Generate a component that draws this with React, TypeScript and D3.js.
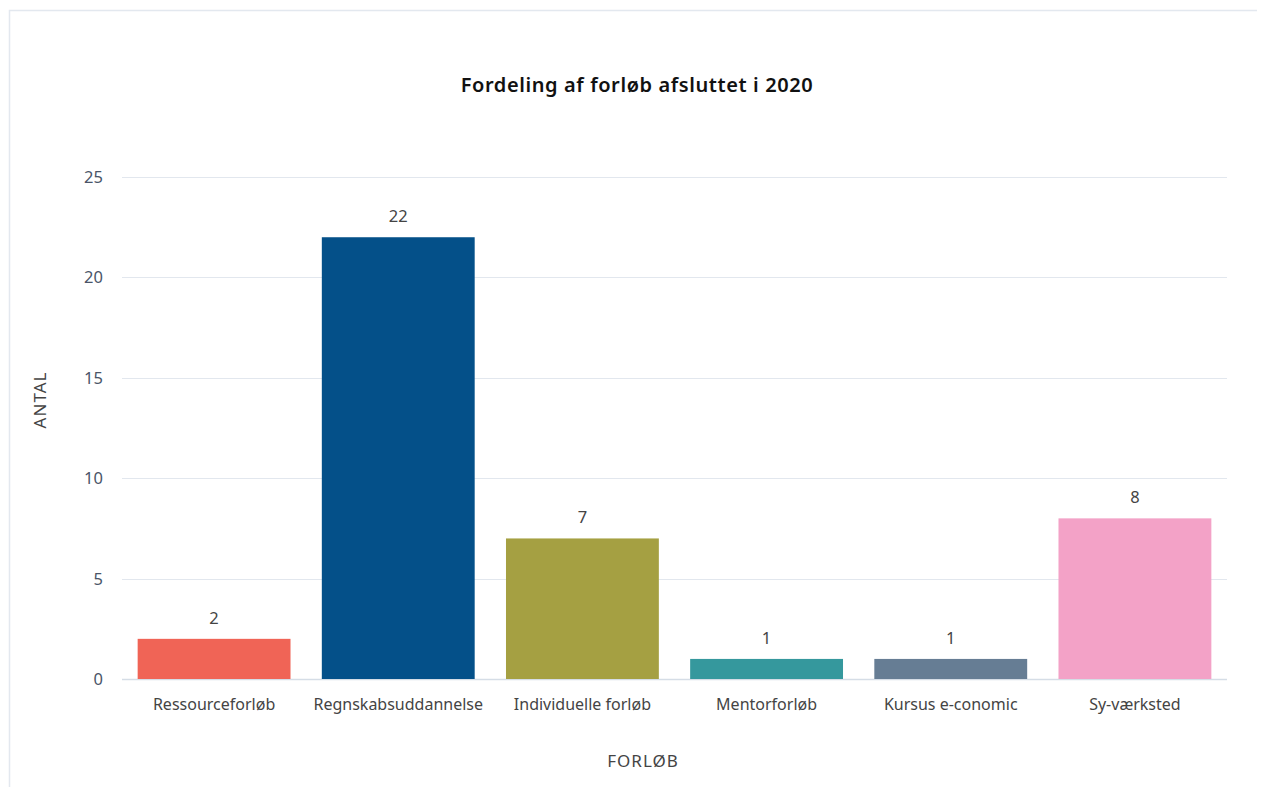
import React from "react";
import * as d3 from "d3";

const categories = [
  "Ressourceforløb",
  "Regnskabsuddannelse",
  "Individuelle forløb",
  "Mentorforløb",
  "Kursus e-conomic",
  "Sy-værksted",
];
const values = [2, 22, 7, 1, 1, 8];
const colors = ["#F06456", "#045089", "#A5A042", "#35989D", "#667D94", "#F3A2C7"];
const yTicks = [0, 5, 10, 15, 20, 25];

const W = 1257;
const H = 779;
const OX = 8; // page offset
const plot = { left: 122 - OX, right: 1227 - OX, top: 177 - OX, bottom: 679 - OX };
const font = "'Noto Sans', 'Open Sans', sans-serif";

export default function App() {
  const x = d3
    .scaleBand<string>()
    .domain(categories)
    .range([plot.left, plot.right])
    .paddingInner(0.17)
    .paddingOuter(0.085);
  const y = d3.scaleLinear().domain([0, 25]).range([plot.bottom, plot.top]);

  return (
    <svg width={W} height={H} style={{ display: "block" }} fontFamily={font}>
      <rect x={1.5} y={2.5} width={W + 10} height={H + 10} fill="#fff" stroke="#e3e8ef" strokeWidth={1.5} />
      <text
        x={637 - OX}
        y={92 - OX}
        textAnchor="middle"
        fontSize={20}
        fontWeight={600}
        letterSpacing={0.6}
        fill="#111"
      >
        Fordeling af forløb afsluttet i 2020
      </text>
      {yTicks.map((t) => (
        <g key={t}>
          <line
            x1={plot.left}
            x2={plot.right}
            y1={Math.round(y(t)) + 0.5}
            y2={Math.round(y(t)) + 0.5}
            stroke={t === 0 ? "#d5dde6" : "#e2e7ee"}
            strokeWidth={t === 0 ? 1.5 : 1}
          />
          <text x={103 - OX} y={y(t) + 6} textAnchor="end" fontSize={16.5} fill="#4a5568">
            {t}
          </text>
        </g>
      ))}
      {categories.map((c, i) => (
        <g key={c}>
          <rect
            x={x(c)!}
            y={y(values[i])}
            width={x.bandwidth()}
            height={y(0) - y(values[i])}
            fill={colors[i]}
          />
          <text
            x={x(c)! + x.bandwidth() / 2}
            y={y(values[i]) - 15}
            textAnchor="middle"
            fontSize={16.5}
            fill="#444"
          >
            {values[i]}
          </text>
          <text
            x={x(c)! + x.bandwidth() / 2}
            y={710 - OX}
            textAnchor="middle"
            fontSize={16}
            fill="#444"
          >
            {c}
          </text>
        </g>
      ))}
      <text x={643 - OX} y={767 - OX} textAnchor="middle" fontSize={17} letterSpacing={1} fill="#444">
        FORLØB
      </text>
      <text
        transform={`translate(${46 - OX},${400 - OX}) rotate(-90)`}
        textAnchor="middle"
        fontSize={17}
        letterSpacing={1}
        fill="#444"
      >
        ANTAL
      </text>
    </svg>
  );
}
